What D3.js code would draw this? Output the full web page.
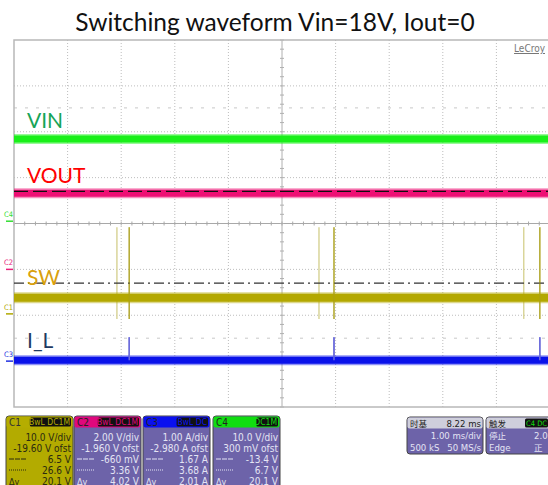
<!DOCTYPE html>
<html>
<head>
<meta charset="utf-8">
<script src="https://cdn.jsdelivr.net/npm/d3@7"></script>
<style>
  body { margin: 0; background: #fff; }
  svg { display: block; }
</style>
</head>
<body>
<div id="chart"></div>
<script>
// waveform data, vertical values in divisions, time in ms (1 ms/div)
var traceNames = ["VIN", "VOUT", "SW", "I_L"];
var traceLevels = [1.84, 0.66, -1.62, -2.98];
var swSpikeTimes = [1.92, 2.15, 5.69, 5.97, 9.51, 9.81];
var swSpikeRange = [-2.08, -0.08];
var ilSpikeTimes = [2.15, 5.97, 9.81];
var ilSpikeRange = [-2.98, -2.48];
var markerNames = ["C4", "C2", "C1", "C3"];
var markerLevels = [0.05, -1.0, -1.97, -3.0];
var cursorLevel = 0.7;
var triggerLevel = -1.3;
var tickRows = [2.52, -2.5];

// readout panels
var chanNames = ["C1", "C2", "C3", "C4"];
var chanBadges = ["BwL DC1M", "BwL DC1M", "BwL DC", "DC1M"];
var chanScale = ["10.0 V/div", "2.00 V/div", "1.00 A/div", "10.0 V/div"];
var chanOffset = ["-19.60 V ofst", "-1.960 V ofst", "-2.980 A ofst", "300 mV ofst"];
var chanCursor1 = ["6.5 V", "-660 mV", "1.67 A", "-13.4 V"];
var chanCursor2 = ["26.6 V", "3.36 V", "3.68 A", "6.7 V"];
var chanDelta = ["20.1 V", "4.02 V", "2.01 A", "20.1 V"];
var timebaseRows = [["时基", "8.22 ms"], ["", "1.00 ms/div"], ["500 kS", "50 MS/s"]];
var triggerRows = [["触发", ""], ["停止", "2.0"], ["Edge", "正"]];

var W = 548, H = 485;
var traceColor = { "VIN": "#19f019", "VOUT": "#ee0f74", "SW": "#b3a800", "I_L": "#0a12ea" };
var labelColor = { "VIN": "#16a457", "VOUT": "#ff0000", "SW": "#d9a00c", "I_L": "#1f3a62" };
var markerColor = { "C4": "#33dd33", "C2": "#e8207a", "C1": "#b0a800", "C3": "#2030e0" };

var svg = d3.select("#chart").append("svg")
  .attr("width", W).attr("height", H);

svg.append("text")
  .attr("x", 275).attr("y", 31)
  .attr("text-anchor", "middle")
  .style("font-family", "Lato, 'Open Sans', sans-serif")
  .style("font-size", "24.5px")
  .attr("fill", "#111")
  .text("Switching waveform Vin=18V, Iout=0");

var x = d3.scaleLinear().domain([0, 10]).range([14, 550]);
var y = d3.scaleLinear().domain([-4, 4]).range([407, 40]);

var grid = svg.append("g");
d3.range(1, 10).forEach(function(t) {
  if (t === 5) return;
  grid.append("line")
    .attr("x1", x(t)).attr("x2", x(t)).attr("y1", y(4)).attr("y2", y(-4))
    .attr("stroke", "#bdbdbd").attr("stroke-dasharray", "1,2");
});
d3.range(-3, 4).forEach(function(v) {
  if (v === 0) return;
  grid.append("line")
    .attr("x1", x(0)).attr("x2", x(10)).attr("y1", y(v)).attr("y2", y(v))
    .attr("stroke", "#bdbdbd").attr("stroke-dasharray", "1,2");
});
tickRows.forEach(function(v) {
  grid.append("line")
    .attr("x1", x(0)).attr("x2", x(10)).attr("y1", y(v)).attr("y2", y(v))
    .attr("stroke", "#c8c8c8").attr("stroke-dasharray", "3,8");
});
// center axes with minor ticks
grid.append("line")
  .attr("x1", x(5)).attr("x2", x(5)).attr("y1", y(4)).attr("y2", y(-4))
  .attr("stroke", "#b0b0b0");
grid.append("line")
  .attr("x1", x(0)).attr("x2", x(10)).attr("y1", y(0)).attr("y2", y(0))
  .attr("stroke", "#a8a8a8");
d3.range(-4, 4.01, 0.2).forEach(function(v) {
  grid.append("line")
    .attr("x1", x(5) - 2).attr("x2", x(5) + 2).attr("y1", y(v)).attr("y2", y(v))
    .attr("stroke", "#b0b0b0");
});
d3.range(0, 10.01, 0.2).forEach(function(t) {
  grid.append("line")
    .attr("x1", x(t)).attr("x2", x(t)).attr("y1", y(0) - 2).attr("y2", y(0) + 2)
    .attr("stroke", "#a8a8a8");
});
grid.append("rect")
  .attr("x", x(0)).attr("y", y(4))
  .attr("width", x(10) - x(0)).attr("height", y(-4) - y(4))
  .attr("fill", "none").attr("stroke", "#b8b8b8").attr("stroke-width", 1.5);

svg.append("text")
  .attr("x", 545).attr("y", 52).attr("text-anchor", "end")
  .style("font-family", "'Liberation Sans Narrow', 'DejaVu Sans Condensed', sans-serif")
  .style("font-size", "10px").attr("fill", "#777")
  .attr("text-decoration", "underline")
  .text("LeCroy");

var line = d3.line()
  .x(function(d) { return x(d[0]); })
  .y(function(d) { return y(d[1]); });

// switching spikes behind traces
swSpikeTimes.forEach(function(t, i) {
  svg.append("path")
    .datum([[t, swSpikeRange[0]], [t, swSpikeRange[1]]])
    .attr("d", line)
    .attr("stroke", i % 2 ? "#c4bb55" : "#d9d59a")
    .attr("stroke-width", 1.5);
});
ilSpikeTimes.forEach(function(t) {
  svg.append("path")
    .datum([[t, ilSpikeRange[0]], [t, ilSpikeRange[1]]])
    .attr("d", line)
    .attr("stroke", "#8080dc")
    .attr("stroke-width", 1.5);
});

// trigger level dash-dot line
svg.append("path")
  .datum([[0, triggerLevel], [10, triggerLevel]])
  .attr("d", line)
  .attr("stroke", "#333").attr("stroke-width", 1.2)
  .attr("stroke-dasharray", "10,4,2,4");

traceNames.forEach(function(name, i) {
  var lv = traceLevels[i];
  var thick = name === "SW" ? 8 : 7;
  svg.append("path")
    .datum([[0, lv], [10, lv]])
    .attr("d", line)
    .attr("stroke", traceColor[name]).attr("stroke-opacity", 0.45)
    .attr("stroke-width", thick + 3);
  svg.append("path")
    .datum([[0, lv], [10, lv]])
    .attr("d", line)
    .attr("stroke", traceColor[name])
    .attr("stroke-width", thick);
});

// cursor dashed line over VOUT
svg.append("path")
  .datum([[0, cursorLevel], [10, cursorLevel]])
  .attr("d", line)
  .attr("stroke", "#111").attr("stroke-width", 1.3)
  .attr("stroke-dasharray", "14,5");

// spike parts drawn over the traces
swSpikeTimes.forEach(function(t, i) {
  if (i % 2 === 0) return;
  svg.append("path")
    .datum([[t, swSpikeRange[0]], [t, swSpikeRange[1]]])
    .attr("d", line)
    .attr("stroke", "#a89e20").attr("stroke-width", 1.2).attr("stroke-opacity", 0.6);
});
ilSpikeTimes.forEach(function(t) {
  svg.append("path")
    .datum([[t, traceLevels[3]], [t, ilSpikeRange[1]]])
    .attr("d", line)
    .attr("stroke", "#6c6cdc")
    .attr("stroke-width", 1.5);
});

// trace labels
var labelDy = { "VIN": -11, "VOUT": -10, "SW": -13, "I_L": -12 };
traceNames.forEach(function(name, i) {
  svg.append("text")
    .attr("x", 27).attr("y", y(traceLevels[i]) + labelDy[name])
    .style("font-family", "Lato, 'Open Sans', sans-serif")
    .style("font-size", "21px")
    .attr("fill", labelColor[name])
    .text(name);
});

// channel markers on left edge
markerNames.forEach(function(m, i) {
  var py = y(markerLevels[i]);
  svg.append("text")
    .attr("x", 4).attr("y", py - 4)
    .style("font-family", "'DejaVu Sans Condensed', sans-serif")
    .style("font-size", "7.5px")
    .attr("fill", markerColor[m])
    .text(m);
  svg.append("line")
    .attr("x1", 6).attr("x2", 13).attr("y1", py).attr("y2", py)
    .attr("stroke", markerColor[m]).attr("stroke-width", 1.5);
});

// channel readout panels
var panelFont = "'Liberation Sans Narrow', 'DejaVu Sans Condensed', sans-serif";
var cjkFont = "'Noto Sans CJK SC', sans-serif";
var panelX = [6, 74, 143, 213];
var headColor = ["#b5ad00", "#e0087c", "#0a10f0", "#10dd10"];
var badgeText = ["#b5ad00", "#e0087c", "#0a10f0", "#10dd10"];
chanNames.forEach(function(c, i) {
  var g = svg.append("g").attr("transform", "translate(" + panelX[i] + ",416)");
  var body = i === 0 ? "#b3ab00" : "#6d63a9";
  var txt = i === 0 ? "#2a2a10" : "#e4e4f4";
  g.append("rect").attr("width", 67).attr("height", 80).attr("rx", 3)
    .attr("fill", body).attr("stroke", "#444").attr("stroke-width", 1);
  g.append("rect").attr("x", 0.5).attr("y", 0.5).attr("width", 66).attr("height", 11).attr("rx", 2)
    .attr("fill", headColor[i]);
  g.append("text").attr("x", 3).attr("y", 9.5)
    .style("font-family", panelFont).style("font-size", "10px")
    .attr("fill", i === 0 ? "#333" : "#222").text(c);
  var bw = chanBadges[i].length * 4.9 + 2;
  g.append("rect").attr("x", 65 - bw).attr("y", 1.5).attr("width", bw).attr("height", 9).attr("rx", 1.5)
    .attr("fill", "#111");
  g.append("text").attr("x", 64).attr("y", 9.3).attr("text-anchor", "end")
    .style("font-family", panelFont).style("font-size", "8.5px")
    .attr("fill", badgeText[i]).text(chanBadges[i]);
  var rows = [chanScale[i], chanOffset[i], chanCursor1[i], chanCursor2[i], chanDelta[i]];
  rows.forEach(function(r, k) {
    g.append("text").attr("x", 65).attr("y", 24.5 + k * 11).attr("text-anchor", "end")
      .style("font-family", panelFont).style("font-size", "10px")
      .attr("fill", txt).text(r);
  });
  g.append("line").attr("x1", 3).attr("x2", 20).attr("y1", 43).attr("y2", 43)
    .attr("stroke", txt).attr("stroke-dasharray", "5,1");
  g.append("line").attr("x1", 3).attr("x2", 20).attr("y1", 54).attr("y2", 54)
    .attr("stroke", txt).attr("stroke-dasharray", "1,1");
  g.append("text").attr("x", 3).attr("y", 68.5)
    .style("font-family", panelFont).style("font-size", "9px")
    .attr("fill", txt).text("Δy");
});

// timebase and trigger panels
function fontFor(s) { return /[\u4e00-\u9fff]/.test(s) ? cjkFont : panelFont; }
function infoPanel(px, w, rows, badge, rightX) {
  var g = svg.append("g").attr("transform", "translate(" + px + ",417)");
  g.append("rect").attr("width", w).attr("height", 37).attr("rx", 3)
    .attr("fill", "#6d63a9").attr("stroke", "#444");
  g.append("rect").attr("x", 0.5).attr("y", 0.5).attr("width", w - 1).attr("height", 11).attr("rx", 2)
    .attr("fill", "#cfcfdc");
  rows.forEach(function(r, k) {
    var col = k === 0 ? "#222" : "#e4e4f4";
    var fs = /[\u4e00-\u9fff]/.test(r[0]) ? "8.5px" : "9.5px";
    if (r[0]) g.append("text").attr("x", 3).attr("y", 9.5 + k * 12)
      .style("font-family", fontFor(r[0])).style("font-size", fs)
      .attr("fill", col).text(r[0]);
    if (!r[1]) return;
    var t = g.append("text").attr("y", 9.5 + k * 12)
      .style("font-family", fontFor(r[1]))
      .style("font-size", /[\u4e00-\u9fff]/.test(r[1]) ? "8.5px" : "9.5px")
      .attr("fill", col).text(r[1]);
    if (rightX) t.attr("x", rightX);
    else t.attr("x", w - 2).attr("text-anchor", "end");
  });
  if (badge) {
    g.append("rect").attr("x", 39).attr("y", 1.5).attr("width", 23).attr("height", 9).attr("rx", 1.5)
      .attr("fill", "#111");
    g.append("text").attr("x", 40).attr("y", 9)
      .style("font-family", panelFont).style("font-size", "7.5px")
      .attr("fill", "#10dd10").text(badge);
  }
}
infoPanel(407, 76, timebaseRows, null, null);
infoPanel(486, 76, triggerRows, "C4 DC", 48);
</script>
</body>
</html>
